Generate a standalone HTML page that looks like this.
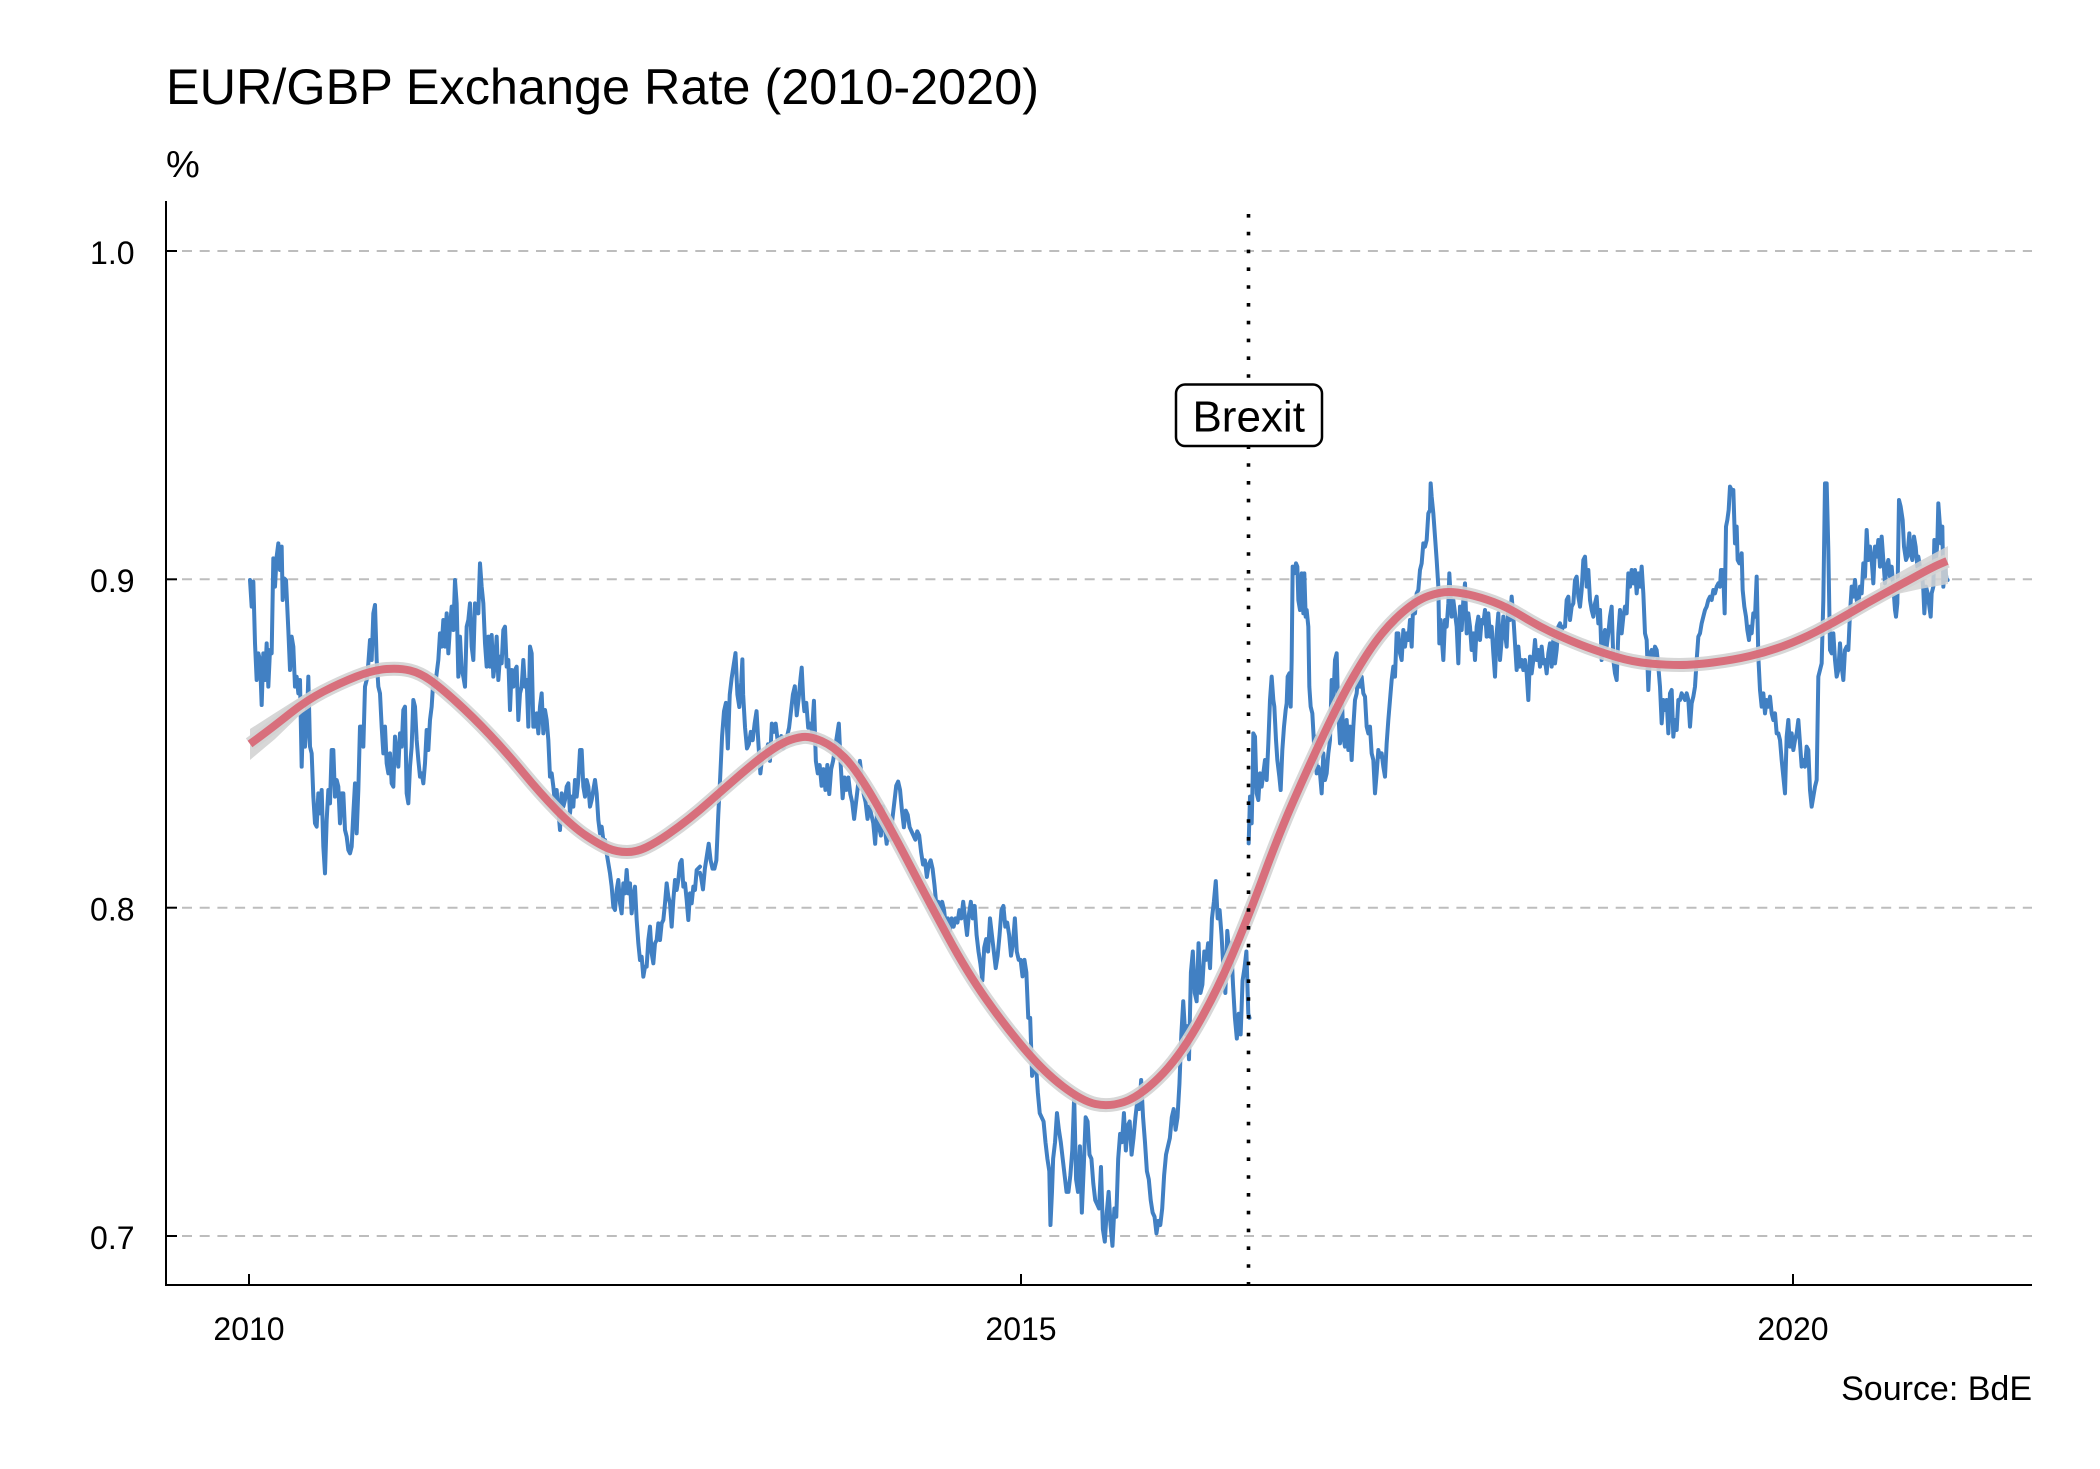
<!DOCTYPE html>
<html>
<head>
<meta charset="utf-8">
<style>
  html, body { margin: 0; padding: 0; background: #ffffff; }
  svg { display: block; }
  text { font-family: "Liberation Sans", Arial, sans-serif; fill: #000; }
</style>
</head>
<body>
<svg width="2100" height="1469" viewBox="0 0 2100 1469" xmlns="http://www.w3.org/2000/svg">
  <rect x="0" y="0" width="2100" height="1469" fill="#ffffff"/>

  <!-- Title & unit -->
  <text x="166" y="104" font-size="50.4">EUR/GBP Exchange Rate (2010-2020)</text>
  <text x="166" y="177" font-size="38">%</text>

  <!-- Gridlines -->
  <g stroke="#bdbdbd" stroke-width="2" stroke-dasharray="10 7.7" fill="none">
    <line x1="182" y1="251" x2="2032" y2="251"/>
    <line x1="182" y1="579.3" x2="2032" y2="579.3"/>
    <line x1="182" y1="907.7" x2="2032" y2="907.7"/>
    <line x1="182" y1="1236" x2="2032" y2="1236"/>
  </g>

  <!-- Blue series -->
  <g fill="none" stroke="#4180c3" stroke-width="4" stroke-linejoin="round" stroke-linecap="round">
    <path vector-effect="non-scaling-stroke" transform="translate(240 520) scale(0.333333)" d="M30,180 L35,260 40,185 45,370 50,480 55,400 60,420 65,555 70,400 75,480 80,370 85,500 90,390 95,400 100,115 105,200 110,110 115,70 120,150 125,80 128,240 132,175 138,180 145,330 150,450 155,350 160,380 165,500 170,470 175,520 180,480 185,740 190,560 195,680 200,620 205,470 210,680 215,700 220,830 225,910 230,920 235,820 240,880 245,810 250,980 255,1060 260,900 265,810 270,850 275,690 280,690 285,830 290,780 295,800 300,910 305,820 310,820 315,930 320,950 325,990 330,1000 335,980 340,880 345,790 350,940 355,810 360,620 365,620 370,680 375,500 380,480 385,430 390,360 395,420 400,280 405,255 410,420 415,500 420,520 425,620 430,700 435,620 440,730 445,760 450,700 455,790 460,800 465,650 470,700 475,740 480,640 485,680 490,570 495,560 500,820 505,850 510,740 515,680 520,540 525,560 530,660 535,720 540,770 545,760 550,790 555,730 560,630 565,690 570,600 575,560 580,480 585,500 590,460 595,420 600,340 605,380 610,300 615,380 620,280 625,400 630,320 635,260 640,330 645,180 650,250 655,470 660,350 665,450 670,470 675,500 680,320 685,300 690,250 695,380 700,420 705,250 710,260 715,280 720,130 725,200 730,250 735,370 740,440 745,350 750,440 755,345 760,470 765,430 770,350 775,480 780,410 785,430 790,330 795,320 800,440 805,420 810,570 815,450 820,500 825,450 830,440 835,600 840,520 845,500 850,420 855,500 860,480 865,620 870,380 875,400 880,620 885,620 890,580 895,640 900,560 905,520 910,640 915,570 920,600 925,660 930,770 935,760 940,800 945,850 950,810 955,870 960,930 965,820 970,860 975,840 980,800 985,790 990,880 995,830 1000,860 1005,780 1010,830 1015,780 1020,690 1025,690 1030,800 1035,830 1040,780 1045,800 1050,860 1055,840 1060,810 1065,780 1070,820 1075,900 1080,940 1085,920 1090,960 1095,960 1100,1000 1105,1030 1110,1060 1115,1100 1120,1160 1125,1170 1130,1110 1135,1080 1140,1150 1145,1180 1150,1090 1155,1120 1160,1050 1165,1120 1170,1090 1175,1180 1180,1130 1185,1100 1190,1200 1195,1270 1200,1320 1205,1310 1210,1370 1215,1340 1220,1340 1225,1260 1230,1220 1235,1300 1240,1330 1245,1270 1250,1260 1255,1210 1260,1260 1265,1210 1270,1200 1275,1150 1280,1090 1285,1130 1290,1150 1295,1220 1300,1140 1305,1080 1310,1110 1315,1080 1320,1030 1325,1020 1330,1100 1335,1090 1340,1140 1345,1200 1350,1120 1355,1150 1360,1100 1365,1110 1370,1050 1380,1040"/>
    <path vector-effect="non-scaling-stroke" transform="translate(680 620) scale(0.38270 0.41442)" d="M52,610 L55,620 60,650 65,600 70,570 75,540 80,580 85,600 90,600 95,580 100,470 105,380 110,280 115,220 120,200 125,310 130,180 135,140 140,110 145,80 150,180 155,210 160,150 163,95 165,180 170,260 175,310 180,300 185,270 190,290 195,250 200,220 205,300 210,370 215,330 220,330 225,320 230,300 235,340 240,250 245,270 250,250 255,290 260,300 265,280 270,310 275,300 280,280 285,260 290,220 295,180 300,160 305,230 310,190 315,140 318,115 322,190 325,220 330,200 335,260 340,250 345,270 350,195 355,340 360,370 365,350 370,400 375,360 380,410 385,350 390,420 395,360 400,340 405,310 410,280 415,250 420,350 425,430 430,380 435,410 440,380 445,420 450,440 455,480 460,440 465,400 470,340 475,380 480,420 485,440 490,480 495,450 500,470 505,490 510,540 515,460 520,500 525,520 530,450 535,500 540,540 545,500 550,530 555,480 560,440 565,400 570,390 575,410 580,460 585,500 590,460 595,470 600,500 605,510 610,520 615,530 620,510 625,520 630,560 635,590 640,580 645,620 650,590 655,580 660,600 665,640 670,690 675,680 680,710 685,680 690,700 695,740 700,720 705,750 710,720 715,740 720,720 725,730 730,700 735,720 740,680 745,720 750,760 755,710 760,680 765,720 770,690 775,760 780,800 785,830 790,870 795,790 800,770 805,800 810,720 815,760 820,800 825,840 830,810 835,760 840,700 845,690 850,740 855,730 860,760 865,810 870,780 875,720 880,800 885,820 890,820 895,860 900,820 905,850 910,960 915,960 920,1100 925,1080 930,1070 935,1140 940,1190 945,1200 950,1210 955,1260 960,1300 965,1330 968,1460 972,1380 975,1300 980,1260 985,1190 990,1230 995,1260 1000,1300 1005,1340 1010,1380 1015,1380 1020,1340 1025,1280 1030,1150 1035,1350 1040,1380 1045,1270 1050,1430 1055,1320 1060,1200 1065,1210 1070,1290 1075,1300 1080,1360 1085,1400 1090,1410 1095,1420 1100,1320 1105,1470 1110,1500 1115,1430 1120,1380 1125,1460 1130,1510 1135,1420 1140,1440 1145,1300 1150,1240 1155,1260 1160,1190 1165,1280 1170,1220 1175,1210 1180,1290 1185,1250 1190,1200 1195,1160 1200,1180 1205,1110 1210,1200 1215,1260 1220,1330 1225,1350 1230,1400 1235,1430 1240,1440 1245,1480 1250,1450 1255,1460 1260,1420 1265,1340 1270,1290 1275,1270 1280,1250 1285,1200 1290,1180 1295,1230 1300,1200 1305,1120 1310,1000 1315,920 1320,1000 1325,980 1330,1060 1335,850 1340,800 1345,900 1350,920 1355,780 1360,900 1365,880 1370,800 1375,820 1380,780 1385,840 1390,720 1395,680 1400,630 1405,720 1410,700 1415,760 1420,840 1425,900 1430,750 1435,800 1440,780 1445,880 1450,960 1455,1010 1460,950 1465,1000 1470,870 1475,840 1480,800 1485,950 1488,960"/>
    <path vector-effect="non-scaling-stroke" transform="translate(1240 460) scale(0.333333)" d="M26,1150 L30,1010 35,1090 38,960 40,820 45,830 50,1000 55,1020 60,940 65,980 70,940 75,900 80,960 85,850 90,720 95,650 100,720 103,740 108,840 112,900 118,950 122,990 127,870 132,800 137,750 140,730 143,650 148,640 152,740 155,600 158,320 163,340 168,310 172,320 175,420 180,450 185,340 190,460 193,340 197,470 200,450 205,500 208,680 212,740 217,760 222,850 227,830 230,940 235,920 240,940 245,1000 250,880 255,960 260,940 265,880 270,840 275,660 280,720 285,600 290,580 295,760 300,850 305,700 310,830 315,860 320,780 325,870 330,800 335,900 340,800 345,720 350,700 355,640 360,680 365,650 370,700 375,710 380,800 385,820 390,800 395,880 400,900 405,1000 410,940 415,870 420,890 425,880 430,920 435,950 440,850 445,780 450,720 455,660 460,620 465,650 470,520 475,520 480,580 485,600 490,510 495,560 500,520 505,540 510,480 515,560 520,420 525,460 530,400 535,390 540,330 545,310 550,250 555,260 560,240 565,160 570,150 572,70 575,110 580,160 585,230 590,300 595,380 598,550 602,480 605,530 610,600 615,480 620,500 625,430 628,340 632,410 635,470 640,420 645,460 650,500 655,610 660,440 665,510 670,420 675,370 680,520 685,460 690,500 695,570 700,520 705,600 710,500 715,470 720,540 725,480 730,490 735,450 740,530 745,460 750,530 755,500 760,580 765,650 770,520 775,460 780,600 785,540 790,470 795,520 800,560 805,430 810,480 815,410 820,470 825,550 830,630 835,560 840,620 845,600 850,630 855,600 860,640 865,720 870,590 875,640 880,600 885,540 890,600 895,570 900,620 905,560 910,610 915,600 920,640 925,580 930,550 935,620 940,540 945,610 950,570 955,500 960,490 965,510 970,500 975,500 980,420 985,410 990,480 995,440 1000,430 1005,360 1010,350 1015,410 1020,440 1025,390 1030,300 1035,290 1040,380 1045,330 1050,420 1055,450 1060,470 1065,430 1070,410 1075,490 1080,450"/>
    <path vector-effect="non-scaling-stroke" transform="translate(1600 460) scale(0.333333)" d="M0,450 L5,600 10,540 15,510 20,560 25,520 30,470 35,440 40,600 45,640 50,660 55,520 60,450 65,520 70,470 75,440 80,460 85,340 90,380 95,330 100,370 105,330 110,400 115,340 120,380 125,320 130,400 135,520 140,540 145,690 150,580 155,570 160,590 165,560 170,570 175,620 180,680 185,790 190,720 195,750 200,720 205,820 210,700 215,690 220,830 225,780 230,810 235,720 240,720 245,700 250,710 255,720 260,700 265,720 270,800 275,730 280,710 285,680 290,600 295,530 300,520 305,490 310,470 315,450 320,440 325,420 330,410 335,420 340,390 345,400 350,380 355,370 360,380 363,330 367,330 370,350 374,460 378,200 382,180 386,150 390,80 395,90 400,90 405,250 410,200 413,300 418,310 425,280 428,390 433,440 438,470 442,510 447,540 450,500 455,520 460,460 465,470 470,350 475,590 480,690 485,740 490,700 495,760 500,720 505,740 510,710 515,760 520,780 525,760 530,820 535,820 540,840 545,900 550,950 555,1000 560,830 565,780 570,860 575,820 580,870 585,840 590,820 595,780 600,850 605,920 610,900 615,920 620,860 625,870 630,990 635,1040 640,1010 645,980 650,960 655,650 660,630 665,610 670,420 675,70 680,70 685,270 690,570 695,580 700,520 705,600 710,650 715,630 720,550 725,620 730,660 735,570 740,560 745,570 750,460 755,380 760,410 765,360 770,420 775,440 780,380 785,400 790,310 795,350 800,210 805,300 810,260 815,300 820,370 825,260 830,290 835,240 840,320 845,230 850,300 855,370 860,320 865,300 870,350 875,320 880,380 885,450 888,470 892,430 897,120 902,140 908,180 912,260 918,300 922,290 928,220 932,280 937,300 942,230 947,260 952,320 955,290 960,320 965,330 970,390 973,460 978,380 983,400 988,440 992,470 995,400 1000,380 1003,240 1008,300 1012,250 1015,130 1020,200 1023,250 1027,200 1030,380 1035,320 1040,360 1043,360"/>
  </g>

  <!-- Confidence band -->
  <path fill="none" stroke="#d3d3d3" stroke-opacity="0.9" stroke-width="14" stroke-linejoin="round"
    d="M250,744 L261.5,735.5 Q273,727 290,713.5 Q307,700 323.5,691.5 Q340,683 356.5,676.5 Q373,670 386.5,669 Q400,668 410,670.5 Q420,673 430,680 Q440,687 456.5,702 Q473,717 490,735 Q507,753 523.5,773 Q540,793 556.5,810 Q573,827 586.5,836 Q600,845 608.5,848.5 Q617,852 627,852 Q637,852 647,847 Q657,842 668.5,834 Q680,826 690,818 Q700,810 709,802 Q718,794 737,777.5 Q756,761 768,752.5 Q780,744 787.5,741 Q795,738 802.5,737 Q810,736 821.5,741 Q833,746 844.5,757.5 Q856,769 873,798 Q890,827 909.5,864.5 Q929,902 948,937 Q967,972 986,999 Q1005,1026 1024.5,1049 Q1044,1072 1063,1086.5 Q1082,1101 1095.5,1104 Q1109,1107 1124,1102 Q1139,1097 1158.5,1078 Q1178,1059 1197,1026 Q1216,993 1232,955.5 Q1248,918 1263.5,876 Q1279,834 1293,802 Q1307,770 1323.5,735 Q1340,700 1353.5,676.5 Q1367,653 1378.5,638 Q1390,623 1403.5,611.5 Q1417,600 1428.5,596 Q1440,592 1448.5,592 Q1457,592 1468.5,594.5 Q1480,597 1493.5,602 Q1507,607 1523.5,617 Q1540,627 1556.5,634.5 Q1573,642 1586.5,647 Q1600,652 1616.5,657 Q1633,662 1650,663.5 Q1667,665 1680,665 Q1693,665 1713,662.5 Q1733,660 1750,656 Q1767,652 1783.5,646 Q1800,640 1816.5,631.5 Q1833,623 1850,613 Q1867,603 1883.5,594 Q1900,585 1916.5,576 Q1933,567 1940,564 L1947,561"/>
  <polygon fill="#d3d3d3" fill-opacity="0.9" points="250,729 275,713 305,694 305,710 275,739 250,760"/>
  <polygon fill="#d3d3d3" fill-opacity="0.85" points="1948,546 1920,561 1880,583 1880,598 1920,589 1948,584"/>

  <!-- Red smooth line -->
  <path fill="none" stroke="#d86f7c" stroke-width="8" stroke-linejoin="round" stroke-linecap="butt"
    d="M250,744 L261.5,735.5 Q273,727 290,713.5 Q307,700 323.5,691.5 Q340,683 356.5,676.5 Q373,670 386.5,669 Q400,668 410,670.5 Q420,673 430,680 Q440,687 456.5,702 Q473,717 490,735 Q507,753 523.5,773 Q540,793 556.5,810 Q573,827 586.5,836 Q600,845 608.5,848.5 Q617,852 627,852 Q637,852 647,847 Q657,842 668.5,834 Q680,826 690,818 Q700,810 709,802 Q718,794 737,777.5 Q756,761 768,752.5 Q780,744 787.5,741 Q795,738 802.5,737 Q810,736 821.5,741 Q833,746 844.5,757.5 Q856,769 873,798 Q890,827 909.5,864.5 Q929,902 948,937 Q967,972 986,999 Q1005,1026 1024.5,1049 Q1044,1072 1063,1086.5 Q1082,1101 1095.5,1104 Q1109,1107 1124,1102 Q1139,1097 1158.5,1078 Q1178,1059 1197,1026 Q1216,993 1232,955.5 Q1248,918 1263.5,876 Q1279,834 1293,802 Q1307,770 1323.5,735 Q1340,700 1353.5,676.5 Q1367,653 1378.5,638 Q1390,623 1403.5,611.5 Q1417,600 1428.5,596 Q1440,592 1448.5,592 Q1457,592 1468.5,594.5 Q1480,597 1493.5,602 Q1507,607 1523.5,617 Q1540,627 1556.5,634.5 Q1573,642 1586.5,647 Q1600,652 1616.5,657 Q1633,662 1650,663.5 Q1667,665 1680,665 Q1693,665 1713,662.5 Q1733,660 1750,656 Q1767,652 1783.5,646 Q1800,640 1816.5,631.5 Q1833,623 1850,613 Q1867,603 1883.5,594 Q1900,585 1916.5,576 Q1933,567 1940,564 L1947,561"/>

  <!-- Brexit dotted line -->
  <line x1="1248.5" y1="214" x2="1248.5" y2="1285" stroke="#000" stroke-width="3.6" stroke-dasharray="3.6 14.2"/>

  <!-- Brexit label -->
  <rect x="1176" y="384.5" width="146" height="61.5" rx="9" ry="9" fill="#ffffff" stroke="#000" stroke-width="2.5"/>
  <text x="1248.7" y="431.5" font-size="44" text-anchor="middle">Brexit</text>

  <!-- Axes -->
  <g stroke="#000" stroke-width="2" fill="none">
    <line x1="166" y1="201" x2="166" y2="1286"/>
    <line x1="165" y1="1285" x2="2032" y2="1285"/>
    <line x1="166" y1="251" x2="177" y2="251"/>
    <line x1="166" y1="579.3" x2="177" y2="579.3"/>
    <line x1="166" y1="907.7" x2="177" y2="907.7"/>
    <line x1="166" y1="1236" x2="177" y2="1236"/>
    <line x1="249" y1="1285" x2="249" y2="1274"/>
    <line x1="1021" y1="1285" x2="1021" y2="1274"/>
    <line x1="1793" y1="1285" x2="1793" y2="1274"/>
  </g>

  <!-- Y tick labels -->
  <g font-size="32" text-anchor="end">
    <text x="134.5" y="264">1.0</text>
    <text x="134.5" y="592">0.9</text>
    <text x="134.5" y="920.5">0.8</text>
    <text x="134.5" y="1249">0.7</text>
  </g>

  <!-- X tick labels -->
  <g font-size="32" text-anchor="middle">
    <text x="249" y="1340">2010</text>
    <text x="1021" y="1340">2015</text>
    <text x="1793" y="1340">2020</text>
  </g>

  <!-- Source -->
  <text x="2032" y="1400" font-size="34" text-anchor="end">Source: BdE</text>
</svg>
</body>
</html>
